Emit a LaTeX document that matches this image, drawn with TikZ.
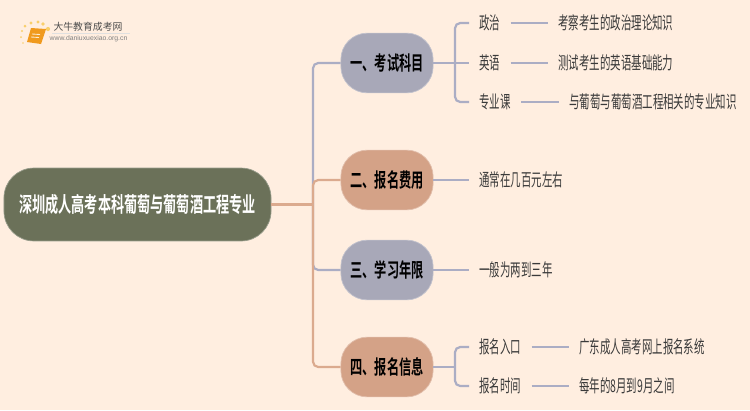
\documentclass[tikz,border=0pt]{standalone}
\usepackage{fontspec}
\usepackage{xcolor}
\usetikzlibrary{calc}
\newfontfamily\cjkleaf[FakeStretch=0.595]{Noto Sans CJK SC}
\newfontfamily\cjkbold[FakeStretch=0.62]{Noto Sans CJK SC Bold}
\newfontfamily\cjklogo{Noto Sans CJK SC}
\setsansfont{Liberation Sans}
\definecolor{bgpeach}{HTML}{FFEEE0}
\definecolor{rootgreen}{HTML}{6B7159}
\definecolor{slateB}{HTML}{A8A8B8}
\definecolor{clayB}{HTML}{D4A287}
\definecolor{slateline}{HTML}{ABADC4}
\definecolor{clayline}{HTML}{DBAA8E}
\definecolor{inkleaf}{HTML}{3A3A3A}
\definecolor{bookorange}{HTML}{F09A1E}
\definecolor{dotgold}{HTML}{F9CF6B}
\tikzset{
    rootbox/.style={rounded corners=17pt, draw=rootgreen!70!white, line width=0.4pt, fill=rootgreen, text=white, minimum width=152pt, minimum height=41.5pt, inner sep=0pt, font=\cjkbold\fontsize{12.05}{14}\selectfont},
    branchbox/.style={rounded corners=15pt, line width=0.4pt, minimum width=52.5pt, minimum height=34pt, inner sep=0pt, text=black, font=\cjkbold\fontsize{11.2}{13}\selectfont},
    leaf/.style={anchor=west, inner xsep=5.7pt, inner ysep=0pt, text=inkleaf, font=\cjkleaf\fontsize{10}{12}\selectfont},
    slatelink/.style={draw=slateline, line width=1.25pt, rounded corners=3pt},
    claylink/.style={draw=clayline, line width=1.25pt, rounded corners=3pt}
}
\begin{document}
\begin{tikzpicture}[x=0.02cm,y=-0.02cm]
\useasboundingbox (0,0) rectangle (750,410);
\fill[bgpeach] (0,0) rectangle (750,410);

% ---- logo ----
\foreach \dx/\dy/\dr in {25/26/1.5,31/23/1.6,38/22/1.7,43/24/1.8,48/29/2.1,22/31/1.2,21/37/1,23/43/0.8}
    \fill[dotgold] (\dx,\dy) circle (\dr);
\fill[bookorange] (31,28) -- (46,29) -- (41,44) -- (27,42) -- cycle;
\draw[white!80!bookorange, line width=0.5pt] (32,34) -- (40,34.5) (31,37) -- (39,37.5);
\draw[black!12, line width=0.5pt] (52,33.5) -- (130,33.5);
\node[inner sep=0pt, text=black!70, font=\cjklogo\fontsize{5.6}{6}\selectfont] (logotext) at (88,27) {大牛教育成考网};
\node[inner sep=0pt, text=black!50, font=\sffamily\fontsize{3.9}{5}\selectfont] (logourl) at (88.5,39) {www.daniuxuexiao.org.cn};

% ---- root and branches ----
\node[rootbox] (root) at (137.5,204.5) {深圳成人高考本科葡萄与葡萄酒工程专业};
\node[branchbox, fill=slateB, draw=slateB!70!white] (b1) at (387,63) {一、考试科目};
\node[branchbox, fill=clayB, draw=clayB!70!white] (b2) at (387,180) {二、报名费用};
\node[branchbox, fill=slateB, draw=slateB!70!white] (b3) at (387,270) {三、学习年限};
\node[branchbox, fill=clayB, draw=clayB!70!white] (b4) at (387,367) {四、报名信息};
\coordinate (bus) at (313,204.5);
\draw[slatelink] (bus) |- (b1.west);
\draw[slatelink] (bus) |- (b3.west);
\draw[claylink] (bus) |- (b2.west);
\draw[claylink] (bus) |- (b4.west);
\draw[claylink] (root.east) -- (bus);

% ---- leaves b1 ----
\node[leaf] (l11) at (469,23) {政治};
\node[leaf] (l12) at (469,63) {英语};
\node[leaf] (l13) at (469,102) {专业课};
\node[leaf] (t11) at (548,23) {考察考生的政治理论知识};
\node[leaf] (t12) at (548,63) {测试考生的英语基础能力};
\node[leaf] (t13) at (559,102) {与葡萄与葡萄酒工程相关的专业知识};
\coordinate (j1) at (455,63);
\draw[slatelink] (j1) |- (l11.west);
\draw[slatelink] (j1) |- (l13.west);
\draw[slatelink] (b1.east) -- (l12.west);
\draw[slatelink] (l11) -- (t11);
\draw[slatelink] (l12) -- (t12);
\draw[slatelink] (l13) -- (t13);

% ---- leaves b2, b3 ----
\node[leaf] (l21) at (469,180) {通常在几百元左右};
\node[leaf] (l31) at (469,270) {一般为两到三年};
\draw[slatelink] (b2.east) -- (l21.west);
\draw[slatelink] (b3.east) -- (l31.west);

% ---- leaves b4 ----
\node[leaf] (l41) at (469,347) {报名入口};
\node[leaf] (l42) at (469,386) {报名时间};
\node[leaf] (t41) at (569,347) {广东成人高考网上报名系统};
\node[leaf] (t42) at (569,386) {每年的8月到9月之间};
\coordinate (j4) at (455,367);
\draw[slatelink] (j4) |- (l41.west);
\draw[slatelink] (j4) |- (l42.west);
\draw[slatelink] (b4.east) -- (j4);
\draw[slatelink] (l41) -- (t41);
\draw[slatelink] (l42) -- (t42);
\end{tikzpicture}
\end{document}
